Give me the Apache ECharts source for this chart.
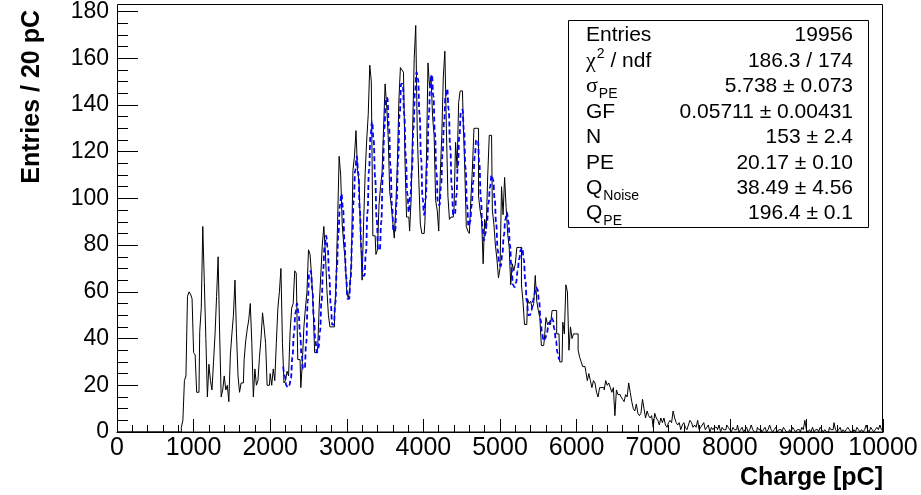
<!DOCTYPE html>
<html><head><meta charset="utf-8">
<script src="https://cdn.jsdelivr.net/npm/echarts@6/dist/echarts.min.js"></script>
<style>html,body{margin:0;padding:0;background:#fff}#c{width:921px;height:495px}</style>
</head><body><div id="c"></div>
<script>
// ---- data ----
const binWidth = 20;            // pC per bin
const xRange = [0, 10000];
const yRange = [0, 180];
const xTickStep = 1000;
const yTickStep = 20;
// histogram counts, bin i covers [20i, 20i+20) pC
const counts = [
  0,0,0,0,0,0,0,0,0,0,        // 0-9
  0,0,0,0,0,0,0,0,0,0,        // 10-19
  0,0,0,0,0,0,0,0,0,0,        // 20-29
  0,0,0,0,0,0,0,0,0,0,        // 30-39
  0,0,2,5,22,24,58,60,59,57,  // 40-49
  34,33,17,17,43,53,88,64,40,15,   // 50-59
  29,22,18,30,42,58,75,42,15,18,   // 60-69
  24,18,20,13,33,42,50,65,42,24,   // 70-79
  17,21,21,31,39,44,48,55,38,15,   // 80-89
  27,20,22,32,40,51,45,38,20,20,   // 90-99
  25,20,27,22,38,53,60,70,38,21,   // 100-109
  22,26,24,43,53,55,69,68,31,31,   // 110-119
  19,30,45,53,60,78,76,67,54,34,   // 120-129
  34,36,54,67,80,88,77,61,50,45,   // 130-139
  45,45,50,64,90,118,110,89,80,73, // 140-149
  60,57,62,73,112,118,129,112,107,84,   // 150-159
  65,90,111,125,136,157,150,84,84,76,   // 160-169
  78,97,105,111,130,149,140,127,103,97, // 170-179
  90,83,97,114,142,156,155,154,116,92,  // 180-189
  92,86,100,130,160,174,128,108,89,85,  // 190-199
  85,90,117,158,148,152,135,127,99,95,  // 200-209
  86,110,127,152,163,130,101,91,92,92,  // 210-219
  96,124,113,141,146,146,133,113,88,86, // 220-229
  85,100,113,130,130,130,101,95,91,72,  // 230-239
  91,87,110,127,127,95,89,80,74,66,     // 240-249
  70,105,93,109,96,85,79,63,72,69,      // 250-259
  72,79,79,79,63,56,46,46,57,55,        // 260-269
  56,53,55,67,56,52,49,37,37,40,        // 270-279
  49,46,47,46,52,52,52,42,42,30,        // 280-289
  30,47,42,63,60,35,45,40,42,42,        // 290-299
  42,35,32,30,28,28,26,22,25,22,        // 300-309
  19,22,21,17,15,19,19,19,18,22,        // 310-319
  20,21,19,17,19,7,18,16,16,15,         // 320-329
  14,13,16,15,21,17,13,10,9,12,         // 330-339
  8,7,8,14,10,6,9,7,6,7,                // 340-349
  2,8,6,5,3,6,4,6,3,2,                  // 350-359
  4,5,4,9,6,4,3,4,1,3,                  // 360-369
  4,2,1,3,5,4,2,3,2,5,                  // 370-379
  1,2,3,4,1,2,3,0,2,1,                  // 380-389
  2,2,1,3,0,2,1,1,3,2,                  // 390-399
  1,0,2,1,1,3,0,1,2,0,                  // 400-409
  1,2,0,1,3,1,0,0,2,1,                  // 410-419
  1,0,1,2,0,1,3,1,0,1,                  // 420-429
  2,0,1,1,0,2,1,0,0,1,                  // 430-439
  0,2,1,0,1,1,0,2,1,5,                  // 440-449
  1,0,1,0,2,0,1,1,0,2,                  // 450-459
  1,0,1,0,0,2,1,1,4,1,                  // 460-469
  0,1,2,0,1,0,1,2,1,0,                  // 470-479
  0,1,0,2,1,0,1,0,1,3,                  // 480-489
  1,0,2,1,0,1,2,1,3,1                   // 490-499
];
// fit curve value at the centre of bins 108..288
const fitFirstBin = 108;
const fitValues = [
  28,24,20,19,20,23,32,42,51,55,
  51,42,33,27,27,38,56,68,69,61,
  49,39,34,36,43,56,69,79,84,79,
  67,55,46,46,55,70,85,97,102,96,
  82,67,57,57,66,82,99,112,118,111,
  95,79,67,67,77,94,112,127,133,125,
  109,91,78,78,90,110,130,143,143,131,
  114,97,86,86,98,117,136,149,149,136,
  118,102,94,101,112,130,145,154,151,136,
  117,100,93,100,116,135,149,153,144,128,
  111,98,97,105,119,133,144,147,138,122,
  105,93,93,101,114,127,137,138,129,113,
  97,88,90,97,107,118,125,125,115,100,
  88,82,85,90,98,105,110,108,100,89,
  78,72,71,76,84,91,94,90,80,70,
  63,62,64,69,74,78,79,74,65,56,
  50,50,52,56,59,62,61,56,48,42,
  39,40,42,45,47,49,48,44,39,34,
  31
];
const statLabels = ['Entries', 'χ', 'σ', 'GF', 'N', 'PE', 'Q', 'Q'];
const statSups   = ['', '2', '', '', '', '', '', ''];
const statSubs   = ['', '', 'PE', '', '', '', 'Noise', 'PE'];
const statTails  = ['', ' / ndf', '', '', '', '', '', ''];
const statValues = ['19956', '186.3 / 174', '5.738 ± 0.073', '0.05711 ± 0.00431',
                    '153 ± 2.4', '20.17 ± 0.10', '38.49 ± 4.56', '196.4 ± 0.1'];
const xTitle = 'Charge [pC]';
const yTitle = 'Entries / 20 pC';

// ---- build ----
const SANS = '"Liberation Sans", Arial, Helvetica, sans-serif';
const SERIF = '"Liberation Serif", "Times New Roman", serif';
const histData = [[xRange[0], counts[0]]];
counts.forEach((c, i) => histData.push([i * binWidth + binWidth / 2, c]));
histData.push([xRange[1], counts[counts.length - 1]]);
const fitData = fitValues.map((v, k) => [(fitFirstBin + k) * binWidth + binWidth / 2, v]);

const cv = document.createElement('canvas').getContext('2d');
function tw(txt, font) { cv.font = font; return cv.measureText(txt).width; }

const graphics = [];
// frame
graphics.push({type: 'rect', silent: true, z: 50,
  shape: {x: 117.5, y: 4.5, width: 765, height: 427.5},
  style: {fill: 'none', stroke: '#000', lineWidth: 1}});
// axis titles
graphics.push({type: 'text', silent: true, x: 883, y: 478,
  style: {text: xTitle, font: 'bold 25px ' + SANS, fill: '#000', textAlign: 'right', textVerticalAlign: 'middle'}});
graphics.push({type: 'text', silent: true, x: 32, y: 10, rotation: Math.PI / 2,
  style: {text: yTitle, font: 'bold 25px ' + SANS, fill: '#000', textAlign: 'right', textVerticalAlign: 'middle'}});
// stats box
graphics.push({type: 'rect', silent: true, z: 60,
  shape: {x: 568.5, y: 20.5, width: 300, height: 207},
  style: {fill: '#fff', stroke: '#000', lineWidth: 1}});
const rowY = [35.5, 61.3, 86.5, 112, 137.5, 162.8, 188, 213];
const fMain = '21px ' + SANS, fGreek = '22px ' + SERIF, fSmall = '14px ' + SANS;
statLabels.forEach((lab, r) => {
  const greek = (lab === 'χ' || lab === 'σ');
  const f = greek ? fGreek : fMain;
  const x0 = 586;
  graphics.push({type: 'text', silent: true, z: 61, x: x0, y: rowY[r],
    style: {text: lab, font: f, fill: '#000', textAlign: 'left', textVerticalAlign: 'middle'}});
  let x1 = x0 + tw(lab, f) + 1;
  if (statSups[r]) {
    graphics.push({type: 'text', silent: true, z: 61, x: x1, y: rowY[r] - 7,
      style: {text: statSups[r], font: fSmall, fill: '#000', textAlign: 'left', textVerticalAlign: 'middle'}});
    x1 += tw(statSups[r], fSmall);
  }
  if (statSubs[r]) {
    graphics.push({type: 'text', silent: true, z: 61, x: x1, y: rowY[r] + 8,
      style: {text: statSubs[r], font: fSmall, fill: '#000', textAlign: 'left', textVerticalAlign: 'middle'}});
    x1 += tw(statSubs[r], fSmall);
  }
  if (statTails[r]) {
    graphics.push({type: 'text', silent: true, z: 61, x: x1, y: rowY[r],
      style: {text: statTails[r], font: fMain, fill: '#000', textAlign: 'left', textVerticalAlign: 'middle'}});
  }
  graphics.push({type: 'text', silent: true, z: 61, x: 853, y: rowY[r],
    style: {text: statValues[r], font: fMain, fill: '#000', textAlign: 'right', textVerticalAlign: 'middle'}});
});

const chart = echarts.init(document.getElementById('c'), null, {renderer: 'canvas'});
const tickStyle = {color: '#000', width: 1};
chart.setOption({
  animation: false,
  backgroundColor: '#fff',
  grid: {left: 117, right: 38, top: 10, bottom: 63, containLabel: false},
  xAxis: {
    type: 'value', min: xRange[0], max: xRange[1], interval: xTickStep,
    axisLine: {show: true, lineStyle: tickStyle},
    axisTick: {show: true, inside: true, length: 13, lineStyle: tickStyle},
    minorTick: {show: true, splitNumber: 5, length: 7, lineStyle: tickStyle},
    splitLine: {show: false},
    axisLabel: {color: '#000', fontSize: 25, fontFamily: SANS, margin: 4, formatter: v => String(v)}
  },
  yAxis: {
    type: 'value', min: yRange[0], max: yRange[1], interval: yTickStep,
    axisLine: {show: true, lineStyle: tickStyle},
    axisTick: {show: true, inside: true, length: 21, lineStyle: tickStyle},
    minorTick: {show: true, splitNumber: 4, length: 11, lineStyle: tickStyle},
    splitLine: {show: false},
    axisLabel: {color: '#000', fontSize: 23, fontFamily: SANS, margin: 8, formatter: v => String(v)}
  },
  series: [
    {type: 'line', name: 'hist', data: histData, step: 'middle', showSymbol: false, symbol: 'none',
     lineStyle: {color: '#000', width: 1}, z: 2, silent: true},
    {type: 'line', name: 'fit', data: fitData, smooth: 0.5, smoothMonotone: 'x', showSymbol: false, symbol: 'none',
     lineStyle: {color: '#0000ff', width: 1.8, type: [5, 3]}, z: 3, silent: true}
  ],
  graphic: graphics
});
</script>
</body></html>
